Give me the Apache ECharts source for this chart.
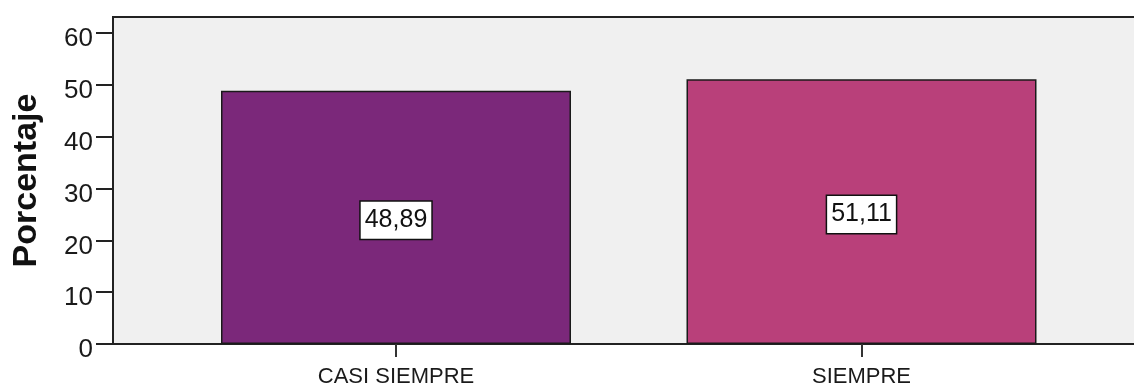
<!DOCTYPE html>
<html>
<head>
<meta charset="utf-8">
<script src="https://cdn.jsdelivr.net/npm/echarts@6/dist/echarts.min.js"></script>
<style>
html,body{margin:0;padding:0;background:#fff;}
#chart{width:1134px;height:387px;}
</style>
</head>
<body>
<div id="chart"></div>
<script>
const categories = ['CASI SIEMPRE', 'SIEMPRE'];
const percentages = [48.89, 51.11];
const barColors = ['#7B287A', '#B9407A'];
const yTicks = [0, 10, 20, 30, 40, 50, 60];
const yMax = 63.1;
const FONT = '"Liberation Sans", Arial, sans-serif';

const chart = echarts.init(document.getElementById('chart'), null, {renderer: 'canvas'});
chart.setOption({
  animation: false,
  backgroundColor: '#ffffff',
  textStyle: {fontFamily: FONT},
  grid: [
    {left: 113, right: -3, top: 17, bottom: 43, show: true, backgroundColor: '#F0F0F0', borderColor: '#222222', borderWidth: 2, outerBoundsMode: 'none', containLabel: false},
    {left: 163.25, right: 39.75, top: 17, bottom: 43, outerBoundsMode: 'none', containLabel: false}
  ],
  xAxis: [
    {
      gridIndex: 0, type: 'category', data: categories,
      axisLine: {show: true, lineStyle: {color: '#222222', width: 2}},
      axisTick: {show: false}, axisLabel: {show: false}, splitLine: {show: false}
    },
    {
      gridIndex: 1, type: 'category', data: categories,
      axisLine: {show: false},
      axisTick: {show: true, alignWithLabel: true, length: 13, lineStyle: {color: '#333333', width: 2}},
      axisLabel: {fontSize: 22, color: '#1a1a1a', margin: 22, fontFamily: FONT},
      splitLine: {show: false}
    }
  ],
  yAxis: [
    {
      gridIndex: 0, type: 'value', min: 0, max: yMax,
      name: 'Porcentaje', nameLocation: 'middle', nameGap: 69,
      nameTextStyle: {fontSize: 34, fontWeight: 'bold', color: '#111111', fontFamily: FONT},
      axisLine: {show: true, lineStyle: {color: '#222222', width: 2}},
      axisTick: {show: true, length: 17, customValues: yTicks, lineStyle: {color: '#222222', width: 2}},
      axisLabel: {customValues: yTicks, fontSize: 26, color: '#1a1a1a', margin: 20, verticalAlign: 'top', lineHeight: 12, fontFamily: FONT},
      splitLine: {show: false}
    },
    {gridIndex: 1, type: 'value', min: 0, max: yMax, show: false, splitLine: {show: false}}
  ],
  series: [{
    type: 'bar',
    xAxisIndex: 1, yAxisIndex: 1,
    data: percentages.map((v, i) => ({value: v, itemStyle: {color: barColors[i]}})),
    barWidth: 350,
    itemStyle: {borderColor: '#1a1a1a', borderWidth: 1.5},
    label: {
      show: true, position: 'inside', offset: [0, 3],
      formatter: p => p.value.toFixed(2).replace('.', ','),
      fontSize: 25, color: '#111111', fontFamily: FONT,
      backgroundColor: '#ffffff', borderColor: '#111111', borderWidth: 1.5,
      padding: [7, 4, 5, 4]
    }
  }]
});
</script>
</body>
</html>
